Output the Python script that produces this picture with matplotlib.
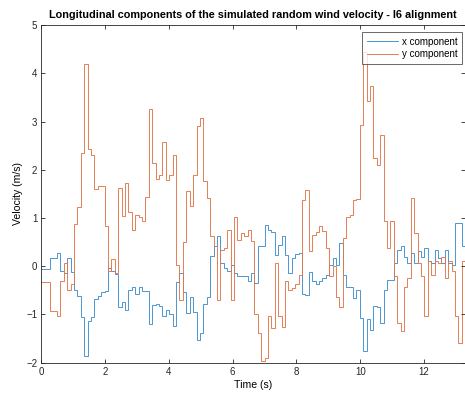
import numpy as np
import matplotlib
matplotlib.use("Agg")
import matplotlib.pyplot as plt

plt.rcParams['font.family'] = ['Liberation Sans', 'DejaVu Sans']

# sample step of the simulated signal (s) and visible time span
dt = 0.1067
t_end = 13.28

# x component (m/s), one value per sample
vx = [-0.05, -0.05, -0.05, 0.17, 0.17, 0.28, -0.1, -0.13, 0.17, -0.12,
      -0.5, -0.62, -1.05, -1.87, -1.13, -1.05, -0.68, -0.62, -0.53, -0.52,
      -0.03, -0.1, -0.17, -0.85, -0.75, -0.9, -0.5, -0.43, -0.57, -0.42,
      -0.52, -0.52, -1.2, -0.8, -0.78, -0.82, -1.03, -0.9, -1.0, -1.23,
      -0.33, -0.14, -0.54, -0.97, -0.63, -0.95, -1.52, -1.39, -0.78, -0.63,
      0.22, 0.41, 0.63, 0.07, -0.04, -0.1, 0.03, -0.14, -0.21, -0.2,
      -0.21, -0.31, -0.14, -0.35, 0.41, 0.41, 0.86, 0.76, 0.7, 0.24,
      0.45, 0.62, 0.24, -0.13, 0.17, 0.25, 0.27, -0.57, -0.59, -0.12,
      -0.31, -0.36, -0.31, -0.24, -0.18, 0.03, 0.17, 0.03, 0.48, -0.18,
      -0.42, -0.42, -0.66, -0.49, -1.08, -1.75, -1.1, -1.32, -0.82, -0.84,
      -1.18, -0.49, -0.28, -0.28, 0.07, 0.34, 0.41, 0.2, 0.07, 0.27,
      0.07, 0.31, 0.2, 0.38, 0.1, 0.07, 0.34, 0.17, 0.07, 0.34,
      0.07, 0.03, 0.9, 0.9, 0.41]

# y component (m/s)
vy = [-0.33, -0.33, -0.33, -0.93, -0.93, -1.03, -0.3, 0.07, -0.5, -0.37,
      0.87, 1.22, 2.35, 4.2, 2.43, 2.3, 1.6, 1.67, 1.67, 0.83,
      -0.1, 0.15, -0.13, 1.63, 1.05, 1.73, 1.12, 0.75, 1.07, 1.03,
      0.93, 1.43, 3.27, 2.15, 1.8, 1.9, 2.57, 1.78, 1.9, 2.3,
      0.03, -0.7, 0.5, 1.55, 1.25, 1.9, 2.9, 3.07, 1.76, 1.41,
      0.63, 0.41, -0.69, 0.34, 0.38, 0.76, -0.69, 1.03, 0.55, 0.69,
      0.62, 0.76, 0.52, -1.0, -1.39, -1.97, -1.9, -1.04, -1.28, 0.06,
      -1.04, -1.25, -0.31, -0.5, -0.45, -0.36, -0.18, 1.38, 1.59, 0.31,
      0.64, 0.72, 0.83, 0.74, 0.38, -0.21, 0.0, -0.63, -0.84, 0.58,
      1.03, 1.07, 1.38, 1.4, 2.93, 4.45, 3.43, 3.74, 2.24, 2.1,
      2.73, 0.93, 0.37, 0.93, -0.21, -1.18, -1.35, -0.42, -0.24, 1.41,
      0.69, 0.07, -0.21, -1.04, 0.1, -0.18, 0.1, 0.07, 0.2, -0.24,
      0.1, -0.1, -1.04, -1.6, 0.1]

n = len(vx)
edges = np.r_[0, (np.arange(1, n + 1) - 0.4) * dt]
edges[-1] = t_end

fig = plt.figure(figsize=(4.65, 3.94), dpi=100)
ax = fig.add_axes([0.089, 0.0794, 0.9105, 0.857])

ax.stairs(vx, edges, color='#3d8fd0', lw=0.65, baseline=None, label='x component')
ax.stairs(vy, edges, color='#e2764a', lw=0.65, baseline=None, label='y component')

ax.set_xlim(0, t_end)
ax.set_ylim(-2, 5)
ax.set_xticks(range(0, 13, 2))
ax.set_yticks(range(-2, 6))
ax.tick_params(direction='in', length=3, width=0.6, labelsize=7, colors='#262626',
               top=True, right=True, pad=3)
for s in ax.spines.values():
    s.set_color('#262626')
    s.set_linewidth(0.6)

ax.set_title('Longitudinal components of the simulated random wind velocity - I6 alignment',
             fontsize=7.8, fontweight='bold', pad=5)
ax.set_xlabel('Time (s)', fontsize=7.6, labelpad=2)
ax.set_ylabel('Velocity (m/s)', fontsize=7.6, labelpad=2)

leg = ax.legend(loc='upper right', bbox_to_anchor=(0.993, 0.979), fontsize=7,
                handlelength=3.2, frameon=True, fancybox=False, edgecolor='#262626',
                borderaxespad=0, borderpad=0.45, handletextpad=0.4, labelspacing=0.3)
leg.get_frame().set_linewidth(0.6)

fig.savefig('out.png', dpi=100)
